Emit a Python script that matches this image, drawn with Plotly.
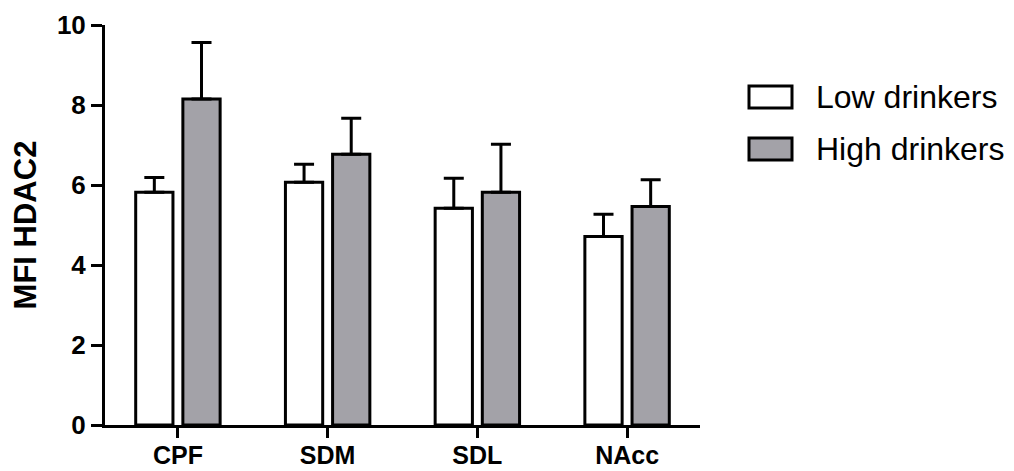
import plotly.graph_objects as go

categories = ["CPF", "SDM", "SDL", "NAcc"]
low_mean = [5.82, 6.07, 5.42, 4.71]
low_err = [0.37, 0.45, 0.75, 0.56]
high_mean = [8.15, 6.77, 5.82, 5.46]
high_err = [1.41, 0.90, 1.20, 0.67]
series_names = ["Low drinkers", "High drinkers"]
y_ticks = [0, 2, 4, 6, 8, 10]

low_color = "#ffffff"
high_color = "#a3a2a8"
FONT = "Liberation Sans, Arial, sans-serif"

fig = go.Figure()
for name, vals, errs, col in [(series_names[0], low_mean, low_err, low_color),
                              (series_names[1], high_mean, high_err, high_color)]:
    fig.add_trace(go.Bar(
        x=categories, y=vals, name=name,
        marker=dict(color=col, line=dict(color="black", width=3)),
        error_y=dict(type="data", symmetric=False, array=errs,
                     arrayminus=[0] * len(errs), color="black",
                     thickness=3, width=10),
        showlegend=False,
    ))

# page has an 8px body margin: figure is placed at (8, 8)
fig.update_layout(
    width=1006, height=463,
    margin=dict(l=97, r=314, t=17, b=46, autoexpand=False),
    paper_bgcolor="white", plot_bgcolor="white",
    barmode="group", bargap=0.37, bargroupgap=0.21,
    font=dict(family=FONT, color="black"),
)
fig.update_xaxes(
    range=[-0.487, 3.487], showline=True, linecolor="black", linewidth=3,
    ticks="outside", ticklen=10, tickwidth=3, tickcolor="black",
    tickfont=dict(size=25, family=FONT, weight="bold"), ticklabelstandoff=-4,
    showgrid=False, zeroline=False, automargin=False,
)
fig.update_yaxes(
    range=[0, 10], tickvals=y_ticks, showline=True, linecolor="black", linewidth=3,
    ticks="outside", ticklen=11, tickwidth=3, tickcolor="black",
    tickfont=dict(size=26, family=FONT, weight="bold"),
    title=dict(text="MFI HDAC2", font=dict(size=31, family=FONT, weight="bold"), standoff=12),
    showgrid=False, zeroline=False, automargin=False,
)

# manual legend (paper coords relative to plot area 595x400)
legend_items = [(series_names[0], low_color, 97), (series_names[1], high_color, 149)]
for text, col, yc in legend_items:
    x0, x1 = 749, 792
    fig.add_shape(type="rect", xref="paper", yref="paper",
                  x0=(x0 - 105) / 595, x1=(x1 - 105) / 595,
                  y0=(425 - (yc + 11)) / 400, y1=(425 - (yc - 11)) / 400,
                  fillcolor=col, line=dict(color="black", width=3))
    fig.add_annotation(xref="paper", yref="paper", x=(814 - 105) / 595,
                       y=(425 - yc) / 400, text=text, showarrow=False,
                       xanchor="left", yanchor="middle",
                       font=dict(size=32, family=FONT, color="black"))

fig.write_html("out.html")
